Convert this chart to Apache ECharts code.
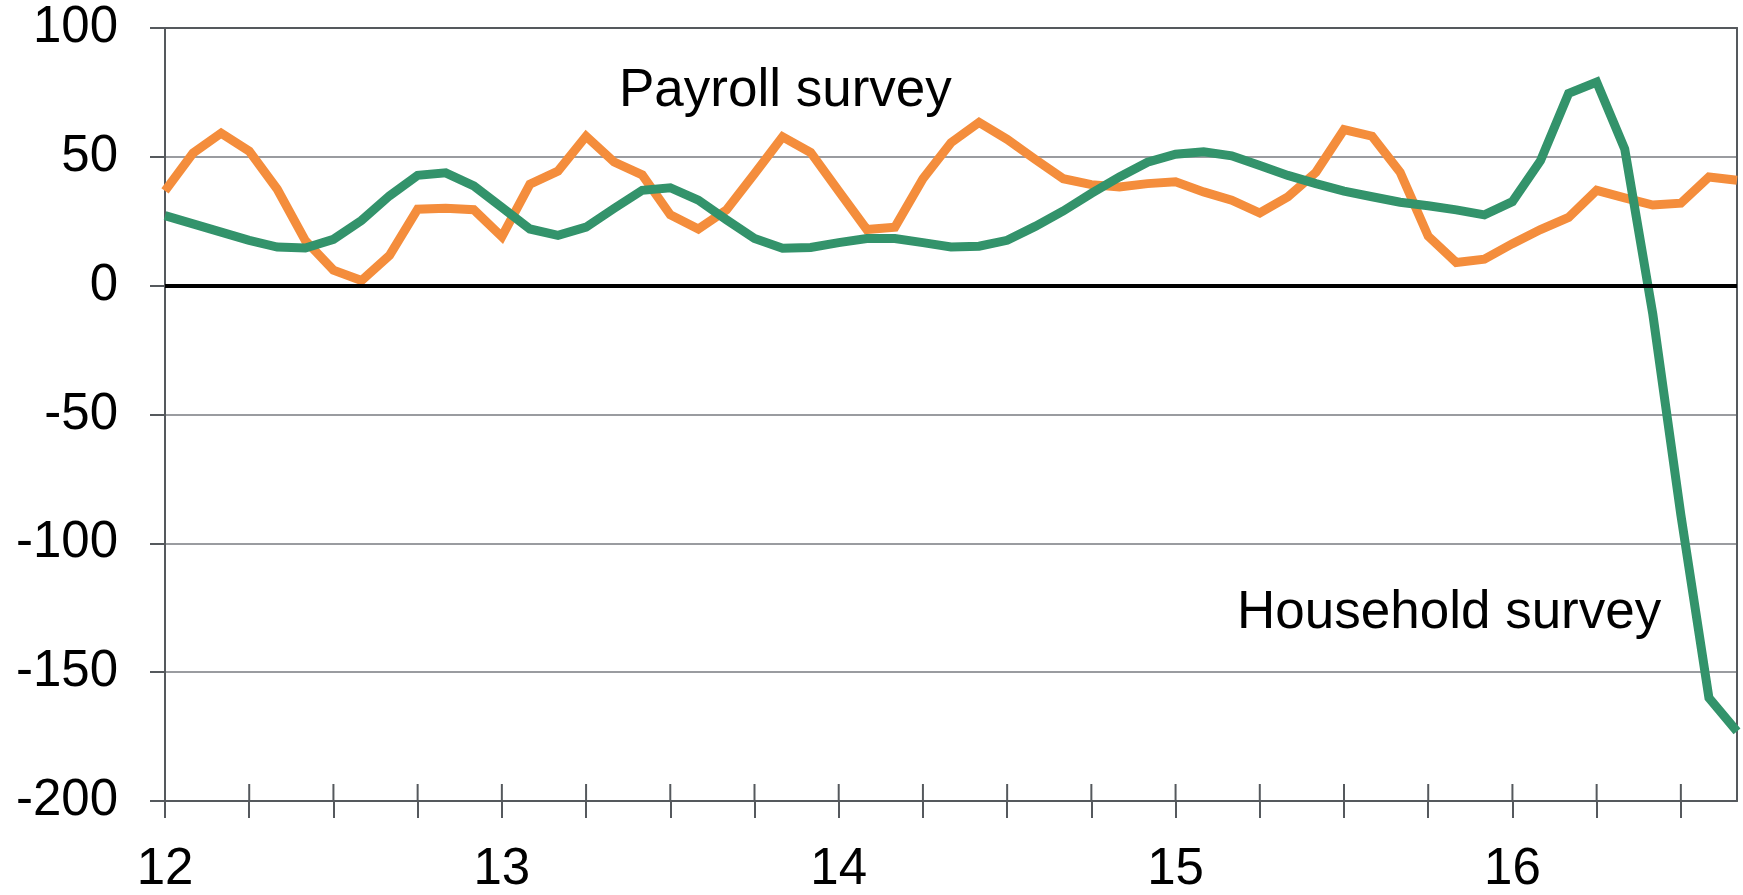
<!DOCTYPE html>
<html>
<head>
<meta charset="utf-8">
<script src="https://cdn.jsdelivr.net/npm/echarts@6/dist/echarts.min.js"></script>
<style>
  html, body { margin: 0; padding: 0; background: #ffffff; }
  #chart { width: 1743px; height: 895px; }
</style>
</head>
<body>
<div id="chart"></div>
<script>
// Monthly observations, Jan 2012 .. Sep 2016
const categories = [
  '12-01','12-02','12-03','12-04','12-05','12-06','12-07','12-08','12-09','12-10','12-11','12-12',
  '13-01','13-02','13-03','13-04','13-05','13-06','13-07','13-08','13-09','13-10','13-11','13-12',
  '14-01','14-02','14-03','14-04','14-05','14-06','14-07','14-08','14-09','14-10','14-11','14-12',
  '15-01','15-02','15-03','15-04','15-05','15-06','15-07','15-08','15-09','15-10','15-11','15-12',
  '16-01','16-02','16-03','16-04','16-05','16-06','16-07','16-08','16-09'
];

const payrollSurvey = [
  36.8, 51.5, 59.2, 52.2, 37.4, 17.5, 6.0, 2.0, 11.8, 29.7, 30.0, 29.5,
  19.0, 39.4, 44.5, 58.0, 48.0, 43.0, 27.5, 22.0, 29.4, 43.4, 57.8, 51.7,
  36.7, 21.8, 22.7, 41.5, 55.5, 63.4, 56.8, 49.0, 41.5, 39.2, 38.3, 39.6,
  40.3, 36.4, 33.2, 28.2, 34.5, 44.0, 60.6, 58.0, 44.0, 19.2, 9.0, 10.3,
  16.3, 21.8, 26.5, 37.0, 34.1, 31.3, 32.0, 42.2, 40.9
];

const householdSurvey = [
  27.2, 24.0, 20.8, 17.6, 15.0, 14.6, 18.0, 25.3, 34.9, 42.8, 43.8, 38.7,
  30.4, 22.0, 19.5, 22.7, 30.0, 37.0, 38.0, 33.2, 25.6, 18.3, 14.5, 14.8,
  16.7, 18.3, 18.3, 16.7, 15.0, 15.3, 17.6, 23.0, 29.0, 35.8, 42.2, 47.9,
  51.0, 52.0, 50.4, 46.6, 42.8, 39.6, 36.7, 34.5, 32.4, 31.0, 29.4, 27.5,
  32.6, 48.5, 74.6, 79.0, 53.0, -11.0, -89.0, -160.0, -173.0
];

const yTicks = { min: -200, max: 100, interval: 50 };
const seriesNames = ['Payroll survey', 'Household survey'];

const FONT = "'Liberation Sans', Arial, Helvetica, sans-serif";
const AXIS_GRAY = '#55595d';
const GRID_GRAY = '#9a9ca0';

const chart = echarts.init(document.getElementById('chart'), null, { renderer: 'canvas' });

const yearLabel = (v) => v.slice(0, 2);
const quarterTick = (i) => i % 3 === 0;
// quarterly tick positions (upper half of the crossing tick marks)
const tickMarks = categories.filter((c, i) => quarterTick(i)).map((c) => [c, yTicks.min]);

const option = {
  animation: false,
  backgroundColor: '#ffffff',
  grid: { left: 165, right: 6, top: 28, bottom: 89, containLabel: false },
  xAxis: [
    {
      type: 'category', data: categories, boundaryGap: false, position: 'bottom',
      axisLine: { show: true, onZero: false, lineStyle: { color: AXIS_GRAY, width: 2 } },
      axisTick: { show: true, inside: false, length: 17, interval: quarterTick, lineStyle: { color: AXIS_GRAY, width: 2 } },
      axisLabel: { show: true, interval: (i) => i % 12 === 0, formatter: yearLabel, margin: 43,
                   color: '#000', fontSize: 51, fontFamily: FONT },
      splitLine: { show: false }
    },
    {
      type: 'category', data: categories, boundaryGap: false, position: 'top',
      axisLine: { show: true, onZero: false, lineStyle: { color: AXIS_GRAY, width: 2 } },
      axisTick: { show: false }, axisLabel: { show: false }, splitLine: { show: false }
    }
  ],
  yAxis: [
    {
      type: 'value', min: yTicks.min, max: yTicks.max, interval: yTicks.interval, position: 'left',
      axisLine: { show: true, onZero: false, lineStyle: { color: AXIS_GRAY, width: 2 } },
      axisTick: { show: true, inside: false, length: 15, lineStyle: { color: AXIS_GRAY, width: 2 } },
      axisLabel: { show: true, margin: 47, color: '#000', fontSize: 51, fontFamily: FONT },
      splitLine: { show: true, lineStyle: { color: GRID_GRAY, width: 2 } }
    },
    {
      type: 'value', min: yTicks.min, max: yTicks.max, interval: yTicks.interval, position: 'right',
      axisLine: { show: true, onZero: false, lineStyle: { color: AXIS_GRAY, width: 2 } },
      axisTick: { show: false }, axisLabel: { show: false }, splitLine: { show: false }
    }
  ],
  series: [
    {
      name: 'ticks', type: 'custom', xAxisIndex: 0, yAxisIndex: 0, silent: true,
      data: tickMarks, z: 2,
      renderItem: function (params, api) {
        const p = api.coord([api.value(0), api.value(1)]);
        return {
          type: 'line',
          shape: { x1: p[0], y1: p[1], x2: p[0], y2: p[1] - 17 },
          style: { stroke: AXIS_GRAY, lineWidth: 2 }
        };
      }
    },
    {
      name: seriesNames[0], type: 'line', xAxisIndex: 0, yAxisIndex: 0,
      data: payrollSurvey, showSymbol: false, symbol: 'none',
      lineStyle: { color: '#F48D3C', width: 9, join: 'miter' },
      itemStyle: { color: '#F48D3C' },
      markLine: {
        silent: true, symbol: 'none', label: { show: false },
        lineStyle: { color: '#000000', width: 4, type: 'solid' },
        data: [{ yAxis: 0 }]
      },
      z: 3
    },
    {
      name: seriesNames[1], type: 'line', xAxisIndex: 0, yAxisIndex: 0,
      data: householdSurvey, showSymbol: false, symbol: 'none',
      lineStyle: { color: '#33936B', width: 9, join: 'miter' },
      itemStyle: { color: '#33936B' },
      z: 4
    }
  ],
  graphic: [
    { type: 'text', left: 619, top: 65, z: 10,
      style: { text: seriesNames[0], fill: '#000', font: '53px ' + FONT } },
    { type: 'text', left: 1237, top: 587, z: 10,
      style: { text: seriesNames[1], fill: '#000', font: '53px ' + FONT } }
  ]
};

chart.setOption(option);
</script>
</body>
</html>
